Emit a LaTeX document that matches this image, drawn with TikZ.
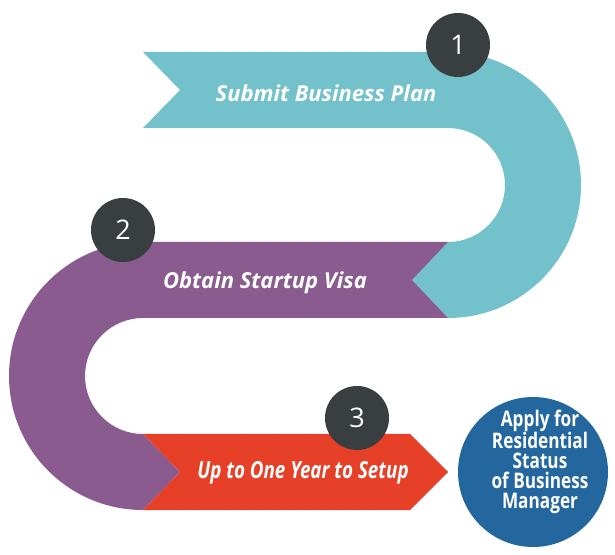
\documentclass[tikz,border=0pt]{standalone}
\usepackage{fontspec}
\setmainfont{Open Sans}
\newfontfamily\narrowfont{Open Sans}[FakeStretch=0.8]
\usepackage{xcolor}

\definecolor{bandteal}{HTML}{73C1CB}
\definecolor{bandpurple}{HTML}{895B8F}
\definecolor{bandred}{HTML}{E64128}
\definecolor{goalblue}{HTML}{24679E}
\definecolor{dotgrey}{HTML}{393E40}

\tikzset{
  numdot/.style={circle, fill=dotgrey, minimum size=64pt, inner sep=0pt,
                 text=white, font=\fontsize{27}{27}\selectfont},
  steptext/.style={text=white, font=\fontsize{22}{22}\selectfont\bfseries\itshape}
}

\begin{document}
\begin{tikzpicture}[x=1pt, y=1pt]
  \useasboundingbox (0,0) rectangle (615,554);

  % bands
  \fill[bandteal] (143,502) -- (448,502) arc[start angle=90, end angle=-90, radius=133]
        -- (412,274) -- (448,312) arc[start angle=-90, end angle=90, radius=57]
        -- (143,426) -- (180,464) -- cycle;
  \fill[bandpurple] (448,312) -- (143,312) arc[start angle=90, end angle=270, radius=134]
        -- (180,82) -- (143,120) arc[start angle=270, end angle=90, radius=58]
        -- (448,236) -- (412,274) -- cycle;
  \fill[bandred] (143,120) -- (410,120) -- (448,82) -- (410,44) -- (143,44)
        -- (180,82) -- cycle;

  % labels
  \node[steptext] (plan) at (326,461) {Submit Business Plan};
  \node[steptext] (visa) at (265,271) {Obtain Startup Visa};
  \node[steptext, font=\fontsize{23.5}{23.5}\selectfont\narrowfont\bfseries\itshape]
        (setup) at (303,81) {Up to One Year to Setup};

  % numbers
  \node[numdot] (n1) at (458,509) {1};
  \node[numdot] (n2) at (123,324) {2};
  \node[numdot] (n3) at (357,136) {3};

  % goal
  \node[circle, fill=goalblue, minimum size=150pt, inner sep=0pt] (goal) at (533,82) {};
  \node[align=center, text=white, inner sep=0pt,
        font=\fontsize{21.5}{20}\selectfont\narrowfont\bfseries]
        (goaltext) at (540,92) {Apply for\\Residential\\Status\\of Business\\Manager};
\end{tikzpicture}
\end{document}
